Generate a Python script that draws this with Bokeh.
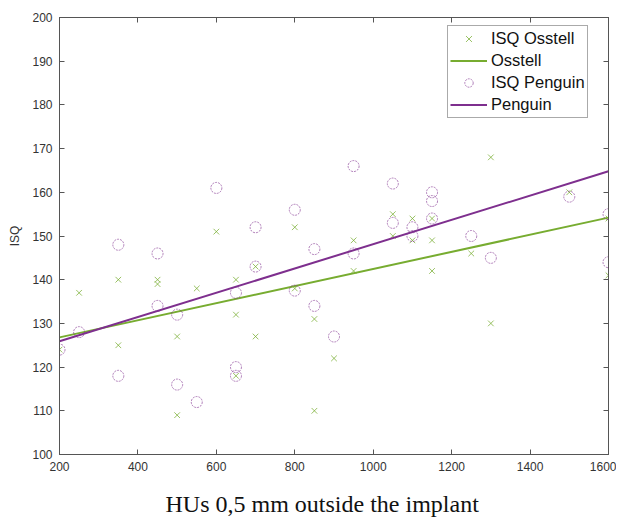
from bokeh.plotting import figure
from bokeh.models import LinearAxis, FixedTicker, Legend, LegendItem, Title
from bokeh.embed import file_html
from bokeh.resources import INLINE

# Data
osstell_hu = [200, 250, 350, 350, 450, 450, 500, 500, 550, 600, 650, 650, 650, 700, 700,
              800, 800, 850, 850, 900, 950, 950, 1050, 1050, 1100, 1100, 1150, 1150, 1150,
              1250, 1300, 1300, 1500, 1600, 1600]
osstell_isq = [124, 137, 140, 125, 140, 139, 127, 109, 138, 151, 140, 132, 118, 143, 127,
               152, 138, 131, 110, 122, 149, 142, 155, 150, 154, 149, 154, 149, 142,
               146, 168, 130, 160, 154, 141]
penguin_hu = [200, 250, 350, 350, 450, 450, 500, 500, 550, 600, 650, 650, 650, 700, 700,
              800, 800, 850, 850, 900, 950, 950, 1050, 1050, 1100, 1100, 1150, 1150, 1150,
              1250, 1300, 1500, 1600, 1600]
penguin_isq = [124, 128, 148, 118, 146, 134, 132, 116, 112, 161, 137, 120, 118, 152, 143,
               156, 137.5, 147, 134, 127, 166, 146, 162, 153, 152, 150, 160, 158, 154,
               150, 145, 159, 155, 144]
# fitted lines (endpoints)
fit_hu = [200, 1600]
osstell_fit = [126.8, 154.2]
penguin_fit = [125.9, 164.8]
x_ticks = [200, 400, 600, 800, 1000, 1200, 1400, 1600]
y_ticks = [100, 110, 120, 130, 140, 150, 160, 170, 180, 190, 200]
x_title = "HUs 0,5 mm outside the implant"
y_title = "ISQ"

GREEN = "#77AC30"
PURPLE = "#7E2F8E"
AX = "#555555"

p = figure(frame_width=549, frame_height=437, output_backend="svg", toolbar_location=None,
           x_range=(200, 1600), y_range=(100, 200),
           min_border_left=59, min_border_right=8, min_border_top=17, min_border_bottom=70)
p.grid.visible = False
p.outline_line_color = AX
p.outline_line_width = 1
p.background_fill_color = "white"
p.border_fill_color = "white"

def style_axis(ax, labels=True):
    ax.axis_line_color = AX
    ax.major_tick_line_color = AX
    ax.minor_tick_line_color = None
    ax.major_tick_in = 5
    ax.major_tick_out = 0
    ax.major_label_text_font = "Liberation Sans"
    ax.major_label_text_font_size = "12px"
    ax.major_label_text_color = "#333333"
    if not labels:
        ax.major_label_text_font_size = "0px"
        ax.major_label_text_alpha = 0
        ax.major_label_standoff = 0

style_axis(p.xaxis[0])
style_axis(p.yaxis[0])
p.xaxis[0].ticker = FixedTicker(ticks=x_ticks)
p.yaxis[0].ticker = FixedTicker(ticks=y_ticks)
p.xaxis[0].major_label_standoff = 7
p.yaxis[0].major_label_standoff = 7
p.yaxis[0].axis_label = y_title
p.yaxis[0].axis_label_text_font = "Liberation Sans"
p.yaxis[0].axis_label_text_font_style = "normal"
p.yaxis[0].axis_label_text_font_size = "12px"
p.yaxis[0].axis_label_text_color = "#333333"
p.yaxis[0].axis_label_standoff = 7

top = LinearAxis(ticker=FixedTicker(ticks=x_ticks))
right = LinearAxis(ticker=FixedTicker(ticks=y_ticks))
style_axis(top, labels=False)
style_axis(right, labels=False)
p.add_layout(top, "above")
p.add_layout(right, "right")

r_ox = p.scatter(osstell_hu, osstell_isq, marker="x", size=8, line_color=GREEN,
                 line_alpha=0.75, line_width=1)
r_ol = p.line(fit_hu, osstell_fit, line_color=GREEN, line_width=2)
r_pc = p.scatter(penguin_hu, penguin_isq, marker="circle", size=11, fill_color=None,
                 line_color=PURPLE, line_alpha=0.6, line_width=1, line_dash="2 1")
r_pl = p.line(fit_hu, penguin_fit, line_color=PURPLE, line_width=2)

legend = Legend(items=[
    LegendItem(label="ISQ Osstell", renderers=[r_ox]),
    LegendItem(label="Osstell", renderers=[r_ol]),
    LegendItem(label="ISQ Penguin", renderers=[r_pc]),
    LegendItem(label="Penguin", renderers=[r_pl]),
], location=(388, 336))
legend.margin = 0
legend.padding = 2
legend.spacing = 1
legend.border_line_color = AX
legend.border_line_width = 1
legend.label_text_font = "Liberation Sans"
legend.label_text_font_size = "16.5px"
legend.label_text_color = "#111111"
legend.glyph_width = 37
legend.glyph_height = 21
legend.label_height = 21
legend.label_standoff = 4
legend.background_fill_alpha = 1
p.add_layout(legend, "center")

caption = Title(text=x_title, align="left", offset=106, standoff=31,
                text_font="Liberation Serif", text_font_size="24px",
                text_font_style="normal", text_color="#111111")
p.add_layout(caption, "below")

open("out.html", "w").write(file_html(p, INLINE))
